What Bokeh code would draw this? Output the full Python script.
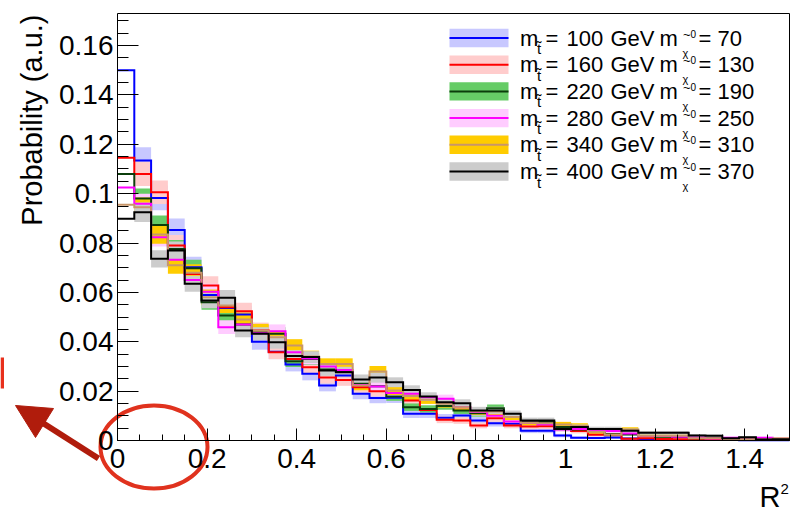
import numpy as np
from math import pi
from bokeh.plotting import figure
from bokeh.models import Range1d, FixedTicker, CustomJSTickFormatter
from bokeh.core.properties import value
from bokeh.embed import file_html
from bokeh.resources import INLINE

# ---------------- data ----------------
r2_min, r2_max, n_bins = 0.0, 1.5, 40
stop_mass = [100, 160, 220, 280, 340, 400]
lsp_mass = [70, 130, 190, 250, 310, 370]

prob_100_70 = [0.1500, 0.1134, 0.0983, 0.0853, 0.0702, 0.0590, 0.0537, 0.0510, 0.0400, 0.0360,
               0.0308, 0.0270, 0.0223, 0.0263, 0.0189, 0.0172, 0.0173, 0.0108, 0.0108, 0.0092,
               0.0101, 0.0081, 0.0070, 0.0068, 0.0040, 0.0040, 0.0020, 0.0011, 0.0010, 0.0012,
               0.0008, 0.0004, 0.0003, 0.0002, 0.0003, 0.0002, 0.0002, 0.0001, 0.0001, 0.0001]
prob_160_130 = [0.1146, 0.1080, 0.1006, 0.0790, 0.0675, 0.0628, 0.0540, 0.0524, 0.0446, 0.0358,
                0.0330, 0.0297, 0.0255, 0.0245, 0.0216, 0.0200, 0.0192, 0.0162, 0.0124, 0.0084,
                0.0081, 0.0061, 0.0090, 0.0061, 0.0057, 0.0058, 0.0047, 0.0038, 0.0023, 0.0023,
                0.0007, 0.0009, 0.0006, 0.0005, 0.0004, 0.0004, 0.0005, 0.0008, 0.0002, 0.0002]
prob_220_190 = [0.1080, 0.0980, 0.0873, 0.0776, 0.0698, 0.0560, 0.0506, 0.0470, 0.0440, 0.0432,
                0.0321, 0.0330, 0.0288, 0.0280, 0.0230, 0.0220, 0.0178, 0.0135, 0.0128, 0.0140,
                0.0122, 0.0110, 0.0131, 0.0095, 0.0075, 0.0075, 0.0055, 0.0045, 0.0038, 0.0025,
                0.0025, 0.0018, 0.0015, 0.0014, 0.0009, 0.0010, 0.0006, 0.0007, 0.0003, 0.0003]
prob_280_250 = [0.1025, 0.0959, 0.0823, 0.0732, 0.0650, 0.0603, 0.0459, 0.0470, 0.0435, 0.0443,
                0.0358, 0.0332, 0.0300, 0.0286, 0.0225, 0.0219, 0.0192, 0.0189, 0.0175, 0.0169,
                0.0135, 0.0115, 0.0100, 0.0077, 0.0072, 0.0065, 0.0045, 0.0047, 0.0042, 0.0038,
                0.0028, 0.0018, 0.0018, 0.0015, 0.0012, 0.0008, 0.0011, 0.0005, 0.0011, 0.0007]
prob_340_310 = [0.0955, 0.0945, 0.0835, 0.0710, 0.0680, 0.0580, 0.0547, 0.0490, 0.0445, 0.0418,
                0.0385, 0.0340, 0.0310, 0.0310, 0.0223, 0.0280, 0.0203, 0.0180, 0.0165, 0.0149,
                0.0135, 0.0118, 0.0117, 0.0095, 0.0072, 0.0070, 0.0065, 0.0060, 0.0035, 0.0023,
                0.0045, 0.0019, 0.0019, 0.0019, 0.0009, 0.0009, 0.0006, 0.0005, 0.0004, 0.0008]
prob_400_370 = [0.0898, 0.0925, 0.0736, 0.0770, 0.0635, 0.0567, 0.0578, 0.0446, 0.0432, 0.0398,
                0.0342, 0.0338, 0.0284, 0.0277, 0.0247, 0.0255, 0.0236, 0.0205, 0.0178, 0.0155,
                0.0151, 0.0122, 0.0122, 0.0108, 0.0081, 0.0081, 0.0047, 0.0055, 0.0047, 0.0047,
                0.0040, 0.0031, 0.0031, 0.0031, 0.0020, 0.0019, 0.0009, 0.0013, 0.0004, 0.0005]
series = [prob_100_70, prob_160_130, prob_220_190, prob_280_250, prob_340_310, prob_400_370]
# statistical scale of the uncertainty band (err = k * sqrt(p))
stat_k = [0.016, 0.015, 0.013, 0.013, 0.013, 0.013]

x_ticks = [0, 0.2, 0.4, 0.6, 0.8, 1.0, 1.2, 1.4]
y_ticks = [0, 0.02, 0.04, 0.06, 0.08, 0.10, 0.12, 0.14, 0.16]

# ---------------- style ----------------
line_colors = ["#0000ff", "#ff0000", "#0b3d0b", "#ff00ff", "#c8966a", "#000000"]
band_colors = ["#c8c8ff", "#ffcccc", "#66cc66", "#ffccff", "#ffcc00", "#cccccc"]
FONT = "Liberation Sans"

W, H = 791, 511
FL, FR, FT, FB = 117, 789, 13, 440          # axes box edges in pixels
YMAX = 0.173

def dx(px):   # pixel -> data x (for decorations)
    return r2_min + (px - FL) * (r2_max - r2_min) / (FR - FL)

def dy(py):   # pixel -> data y (for decorations)
    return (FB - py) * YMAX / (FB - FT)

p = figure(width=W, height=H, output_backend="svg", toolbar_location=None,
           x_range=Range1d(dx(0), dx(W)), y_range=Range1d(dy(H), dy(0)),
           min_border=0, min_border_left=0, min_border_right=0,
           min_border_top=0, min_border_bottom=0)
p.background_fill_color = "white"
p.border_fill_color = "white"
p.outline_line_color = None
p.xgrid.visible = False
p.ygrid.visible = False

edges = np.linspace(r2_min, r2_max, n_bins + 1)

# uncertainty bands (first bin has none)
for vals, k, bc in zip(series, stat_k, band_colors):
    v = np.array(vals)
    err = k * np.sqrt(v)
    p.quad(left=edges[1:-1], right=edges[2:], bottom=(v - err)[1:], top=(v + err)[1:],
           fill_color=bc, line_color=None)

# histogram outlines
for vals, lc in zip(series, line_colors):
    xs = np.repeat(edges, 2)[1:-1]
    ys = np.repeat(np.array(vals), 2)
    p.line(xs, ys, line_color=lc, line_width=2, line_join="miter")

# frame top / right
p.line([r2_min, r2_max, r2_max], [YMAX, YMAX, 0], line_color="black", line_width=1)

# axes drawn at the data origin
p.xaxis.fixed_location = 0
p.yaxis.fixed_location = 0
p.xaxis.bounds = (r2_min, r2_max)
p.yaxis.bounds = (0, YMAX)
p.xaxis.ticker = FixedTicker(ticks=x_ticks, minor_ticks=list(np.round(np.arange(0, 1.5001, 0.05), 3)))
p.yaxis.ticker = FixedTicker(ticks=y_ticks, minor_ticks=list(np.round(np.arange(0, 0.1726, 0.005), 4)))
p.xaxis.formatter = CustomJSTickFormatter(code=r"var s = tick.toFixed(1); s = s.replace(/0+$/, ''); return s.replace(/\.$/, '');")
p.yaxis.formatter = CustomJSTickFormatter(code=r"var s = tick.toFixed(2); s = s.replace(/0+$/, ''); return s.replace(/\.$/, '');")
for ax in (p.xaxis, p.yaxis):
    ax.major_tick_out = 0
    ax.minor_tick_out = 0
    ax.axis_line_color = "black"
    ax.major_tick_line_color = "black"
    ax.minor_tick_line_color = "black"
    ax.major_label_text_font = FONT
    ax.major_label_text_font_size = "28px"
    ax.major_label_text_color = "black"
p.xaxis.major_tick_in = 12
p.xaxis.minor_tick_in = 6
p.yaxis.major_tick_in = 21
p.yaxis.minor_tick_in = 11
p.xaxis.major_label_standoff = 8
p.yaxis.major_label_standoff = 4

mid_txt = dict(text_font=value(FONT), text_color="black", text_baseline="middle")

# axis titles
p.text([dx(31)], [dy(14)], text=["Probability (a.u.)"], angle=pi / 2, text_align="right",
       text_font_size="29px", **mid_txt)
p.text([dx(780)], [dy(496)], text=["R"], text_align="right", text_font_size="29px", **mid_txt)
p.text([dx(780)], [dy(488)], text=["2"], text_align="left", text_font_size="15px", **mid_txt)

# legend
row_h = 26.7
for i, (ms, ml, lc, bc) in enumerate(zip(stop_mass, lsp_mass, line_colors, band_colors)):
    top = 28.3 + row_h * i
    c = top + 9.2
    p.quad(left=dx(449), right=dx(508), top=dy(top), bottom=dy(top + 18.4),
           fill_color=bc, line_color=None)
    p.line([dx(449), dx(508)], [dy(c), dy(c)], line_color=lc, line_width=2)
    t = dict(text_align="left", **mid_txt)
    p.text([dx(519.5)], [dy(c)], text=["m"], text_font_size="22px", **t)
    p.text([dx(536.5)], [dy(c + 10.5)], text=["t\u0303"], text_font_size="15px", **t)
    p.text([dx(545)], [dy(c)], text=["="], text_font_size="22px", **t)
    p.text([dx(566)], [dy(c)], text=[str(ms)], text_font_size="22px", **t)
    p.text([dx(610)], [dy(c)], text=["GeV"], text_font_size="22px", **t)
    p.text([dx(659)], [dy(c)], text=["m"], text_font_size="22px", **t)
    p.text([dx(682.5)], [dy(c - 4)], text=["~"], text_font_size="13px", **t)
    p.text([dx(690)], [dy(c - 4.5)], text=["0"], text_font_size="10px", **t)
    p.text([dx(682)], [dy(c + 14.5)], text=["\u03c7"], text_font_size="11px", **t)
    p.text([dx(698)], [dy(c)], text=["="], text_font_size="22px", **t)
    p.text([dx(717)], [dy(c)], text=[str(ml)], text_font_size="22px", **t)

# red markup: ellipse around the origin, arrow and bar
p.ellipse(x=[dx(153.5)], y=[dy(446.5)], width=107 / (FR - FL) * (r2_max - r2_min),
          height=83 / (FB - FT) * YMAX, fill_alpha=0, line_color="#e0321e", line_width=4)
p.line([dx(98), dx(40)], [dy(458), dy(421)], line_color="#b01c0c", line_width=6)
p.patch([dx(15), dx(53), dx(35)], [dy(405), dy(408), dy(437)], fill_color="#b01c0c",
        line_color="#b01c0c", line_width=1)
p.quad(left=dx(0), right=dx(3.5), top=dy(357), bottom=dy(388), fill_color="#e8301c",
       line_color=None)

open("out.html", "w").write(file_html(p, INLINE))
